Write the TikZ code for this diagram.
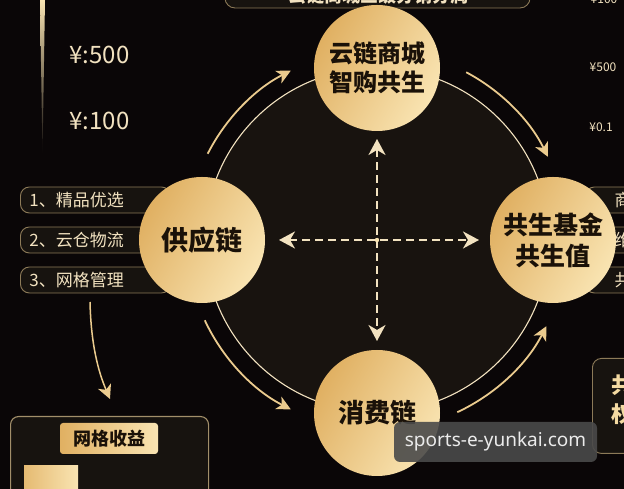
\documentclass[tikz,border=0pt]{standalone}
\usepackage{fontspec}
\setmainfont{Noto Sans CJK SC}
\newfontfamily\latinsans{Noto Sans}
\usetikzlibrary{arrows.meta,calc}
\definecolor{bg}{HTML}{0A0607}
\definecolor{inner}{HTML}{18130F}
\definecolor{goldA}{HTML}{E0B062}
\definecolor{goldB}{HTML}{F9E4B2}
\definecolor{cream}{HTML}{F2E2C0}
\definecolor{arcgold}{HTML}{EBCB8E}
\definecolor{ink}{HTML}{1A1108}
\definecolor{boxline}{HTML}{8C7A58}
\definecolor{boxfill}{HTML}{17130F}
\definecolor{wm}{HTML}{4A4A4A}
\begin{document}
\begin{tikzpicture}[x=1pt,y=1pt,
  goldball/.style={circle, minimum size=126pt, inner sep=0pt, left color=goldA, right color=goldB, shading angle=60, text=ink, font=\bfseries\fontsize{24}{29}\selectfont, align=center},
  listbox/.style={draw=boxline, line width=0.9pt, fill=boxfill, rounded corners=9pt, minimum height=26pt, text width=132pt, inner xsep=9pt, align=left, anchor=west, text=cream, font=\fontsize{17}{20}\selectfont},
  rbox/.style={draw=boxline, line width=0.9pt, fill=boxfill, rounded corners=9pt, minimum height=26pt, minimum width=80pt, anchor=west},
  flow/.style={draw=arcgold, line width=1.8pt, -{Stealth[length=14pt,width=14pt,inset=4pt]}},
  dash2/.style={draw=cream, line width=2.4pt, dash pattern=on 8pt off 5pt, {Stealth[length=16pt,width=17pt,inset=5pt]}-{Stealth[length=16pt,width=17pt,inset=5pt]}},
  price/.style={text=cream, anchor=west, font=\fontsize{24}{27}\selectfont},
  smallprice/.style={text=cream, font=\fontsize{12}{14}\selectfont}
]
\useasboundingbox (0,0) rectangle (624,489);
\clip (0,0) rectangle (624,489);
\fill[bg] (0,0) rectangle (624,489);

% top cut-off header box
\node[draw=boxline, line width=0.9pt, fill=boxfill, rounded corners=10pt, minimum width=305pt, minimum height=40pt] (head) at (377.5,501) {};
\node[text=cream, font=\bfseries\fontsize{18}{20}\selectfont] (headt) at (378,493) {云链商城三级分销分润};

% tapered gold line
\shade[top color=goldB, bottom color=bg] (40,489) -- (45,489) -- (42.5,335) -- cycle;

% prices
\node[price] (p500) at (66,434) {¥:500};
\node[price] (p100) at (66,368) {¥:100};
\node[smallprice] (q100) at (604,490) {¥100};
\node[smallprice] (q500) at (603,422) {¥500};
\node[smallprice] (q01) at (601,362) {¥0.1};

% big circle
\coordinate (O) at (377,249);
\fill[inner] (O) circle[radius=172];
\draw[cream, line width=1.1pt] (O) circle[radius=172];

% list boxes left
\node[listbox] (l1) at (20,289) {1、精品优选};
\node[listbox] (l2) at (20,249) {2、云仓物流};
\node[listbox] (l3) at (20,209) {3、网格管理};

% list boxes right
\node[rbox] (r1) at (585,289) {};
\node[rbox] (r2) at (585,249) {};
\node[rbox] (r3) at (585,209) {};
\node[text=cream, anchor=west, font=\fontsize{17}{20}\selectfont] (r1t) at (611,289) {商};
\node[text=cream, anchor=west, font=\fontsize{17}{20}\selectfont] (r2t) at (611,249) {维};
\node[text=cream, anchor=west, font=\fontsize{17}{20}\selectfont] (r3t) at (611,209) {共};

% bottom-right box
\node[draw=boxline, line width=0.9pt, fill=boxfill, rounded corners=9pt, minimum width=80pt, minimum height=95pt, anchor=north west] (br) at (592,131) {};
\node[text=goldB!80!goldA, anchor=west, font=\bfseries\fontsize{22}{26}\selectfont] (brt1) at (608,104) {共};
\node[text=goldB!80!goldA, anchor=west, font=\bfseries\fontsize{22}{26}\selectfont] (brt2) at (608,75) {权};

% bottom-left box
\node[draw=boxline!80!goldB, line width=1.1pt, fill=boxfill, rounded corners=8pt, minimum width=198pt, minimum height=100pt, anchor=north west] (bl) at (10,73) {};
\node[left color=goldA, right color=goldB, rounded corners=3pt, minimum width=98pt, minimum height=31pt, text=ink, font=\bfseries\fontsize{18}{20}\selectfont] (lab) at (109,50.5) {网格收益};
\shade[left color=goldA!80!goldB, right color=goldB] (24,23) rectangle (78,-5);

% outer flow arcs
\coordinate (a1) at ($(O)+(153:190)$);
\coordinate (a2) at ($(O)+(62:190)$);
\coordinate (a3) at ($(O)+(-65:190)$);
\coordinate (a4) at ($(O)+(205:190)$);
\draw[flow] (a1) arc[start angle=153, end angle=117, radius=190];
\draw[flow] (a2) arc[start angle=62, end angle=26, radius=190];
\draw[flow] (a3) arc[start angle=-65, end angle=-27, radius=190];
\draw[flow] (a4) arc[start angle=205, end angle=243, radius=190];

% arrow to bottom-left box
\coordinate (d1) at (90,187);
\coordinate (d2) at (110,90);
\draw[flow, line width=1.5pt] (d1) .. controls (91,145) and (98,118) .. (d2);

% dashed cross
\coordinate (dl) at (279,249);
\coordinate (dr) at (479,249);
\coordinate (dt) at (377,350);
\coordinate (db) at (377,148);
\draw[dash2] (dl) -- (dr);
\draw[dash2] (dt) -- (db);
\fill[goldB] (O) circle[radius=2.2];

% gold balls
\node[goldball] (top) at (377,421) {云链商城\\智购共生};
\node[goldball, font=\bfseries\fontsize{27}{30}\selectfont] (left) at (202,249) {供应链};
\node[goldball, font=\bfseries\fontsize{25}{31}\selectfont] (right) at (553,249) {共生基金\\共生值};
\node[goldball, font=\bfseries\fontsize{26}{30}\selectfont] (bottom) at (377,76) {消费链};

% watermark
\node[fill=wm, fill opacity=0.9, text opacity=1, rounded corners=6pt, minimum width=203pt, minimum height=40pt, text=white!92!black, font=\latinsans\fontsize{19}{22}\selectfont] (wmk) at (495.5,47) {sports-e-yunkai.com};
\end{tikzpicture}
\end{document}
